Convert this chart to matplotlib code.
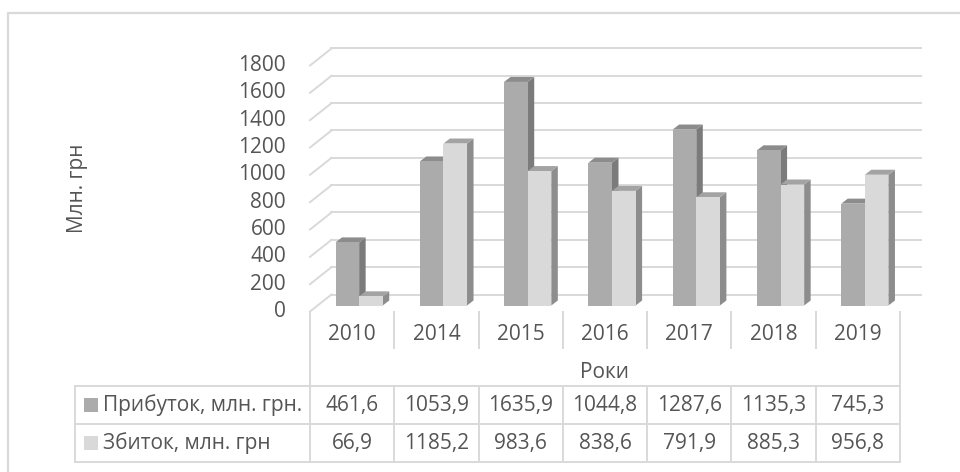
import matplotlib
matplotlib.use("Agg")
import matplotlib.pyplot as plt
from matplotlib.lines import Line2D
from matplotlib.patches import Polygon, Rectangle

# дані
years = ['2010', '2014', '2015', '2016', '2017', '2018', '2019']
profit = [461.6, 1053.9, 1635.9, 1044.8, 1287.6, 1135.3, 745.3]
loss = [66.9, 1185.2, 983.6, 838.6, 791.9, 885.3, 956.8]
profit_label = 'Прибуток, млн. грн.'
loss_label = 'Збиток, млн. грн'
y_ticks = list(range(0, 1801, 200))

plt.rcParams['font.family'] = ['Open Sans', 'DejaVu Sans']
TXT = '#555555'
GRID = '#d9d9d9'
FS = 15

W, H = 960, 472
fig = plt.figure(figsize=(W / 100, H / 100), dpi=100)
fig.patch.set_facecolor('white')


def fx(x): return x / W
def fy(y): return 1 - y / H


def fline(xs, ys, lw=1.4):
    fig.add_artist(Line2D([fx(x) for x in xs], [fy(y) for y in ys],
                          transform=fig.transFigure, color=GRID, lw=lw))


# область графіка: x у категоріях, y у млн. грн (передня площина)
ax_top, ax_bot = 40, 311.5
ax = fig.add_axes([fx(310), fy(ax_bot), fx(590), (ax_bot - ax_top) / H])
px_cat = 590 / 7
px_val = 0.13667
ax.set_xlim(-0.5, 6.5)
ax.set_ylim(0, (ax_bot - ax_top) / px_val)
ax.axis('off')

# зміщення глибини (3D)
dxb, dyb = 21.5 / px_cat, 17 / px_val     # задня стінка
dxf, dyf = 7 / px_cat, 6 / px_val         # передня грань стовпців
ddx, ddy = 6.5 / px_cat, 5 / px_val       # глибина стовпця

# сітка на задній стінці + бічна стінка
for v in y_ticks:
    ax.plot([-0.5, -0.5 + dxb], [v, v + dyb], color=GRID, lw=1.4,
            clip_on=False, zorder=1)
    ax.plot([-0.5 + dxb, 6.5 + dxb], [v + dyb, v + dyb], color=GRID, lw=1.4,
            clip_on=False, zorder=1)

# стовпці
bw = 0.28
series = [(profit, '#ababab', '#7b7b7b', '#8c8c8c', -bw),
          (loss, '#d9d9d9', '#8d8d8d', '#a3a3a3', 0.0)]
z = 2
for i in range(len(years)):
    for vals, cf, cs, ct, off in series:
        v = vals[i]
        x0 = i + off + dxf
        x1 = x0 + bw
        b = dyf
        t = dyf + v
        ax.add_patch(Polygon([(x1, b), (x1 + ddx, b + ddy), (x1 + ddx, t + ddy), (x1, t)],
                             closed=True, facecolor=cs, edgecolor='none',
                             clip_on=False, zorder=z))
        ax.add_patch(Polygon([(x0, t), (x0 + ddx, t + ddy), (x1 + ddx, t + ddy), (x1, t)],
                             closed=True, facecolor=ct, edgecolor='none',
                             clip_on=False, zorder=z))
        ax.bar(x0, v, width=bw, bottom=b, align='edge', color=cf,
               edgecolor='none', clip_on=False, zorder=z + 0.5)
        z += 1

# підписи осі Y
for v in y_ticks:
    ax.text(-0.5 - 24 / px_cat, v, str(v), ha='right', va='center',
            fontsize=FS, color=TXT, clip_on=False)

fig.text(fx(78), fy(188), 'Млн. грн', rotation=90, ha='center', va='center',
         fontsize=FS, color=TXT)

# таблиця даних
col_x = [310 + k * px_cat for k in range(8)]
for xk in col_x[1:-1]:
    fline([xk, xk], [312, 348])
fline([310, 310], [312, 462])
fline([900, 900], [312, 462])
fline([75, 75], [386, 462])
for xk in col_x[1:-1]:
    fline([xk, xk], [386, 462])
for yk in (386, 424, 462):
    fline([75, 900], [yk, yk])

for i, yr in enumerate(years):
    cx = (col_x[i] + col_x[i + 1]) / 2
    fig.text(fx(cx), fy(335), yr, ha='center', va='center', fontsize=FS, color=TXT)
    fig.text(fx(cx), fy(405), f'{profit[i]:.1f}'.replace('.', ','),
             ha='center', va='center', fontsize=FS, color=TXT)
    fig.text(fx(cx), fy(443), f'{loss[i]:.1f}'.replace('.', ','),
             ha='center', va='center', fontsize=FS, color=TXT)
fig.text(fx(605), fy(372), 'Роки', ha='center', va='center', fontsize=FS, color=TXT)

# легенда в таблиці
for yc, col, lab in ((405, '#ababab', profit_label), (443, '#d9d9d9', loss_label)):
    fig.add_artist(Rectangle((fx(84), fy(yc + 7)), 14 / W, 14 / H,
                             transform=fig.transFigure, facecolor=col, edgecolor='none'))
    fig.text(fx(103), fy(yc), lab, ha='left', va='center', fontsize=FS, color=TXT)

# рамка діаграми
fline([7.5, 7.5, 960], [472, 12.5, 12.5], lw=1.6)

fig.savefig('out.png', dpi=100)
